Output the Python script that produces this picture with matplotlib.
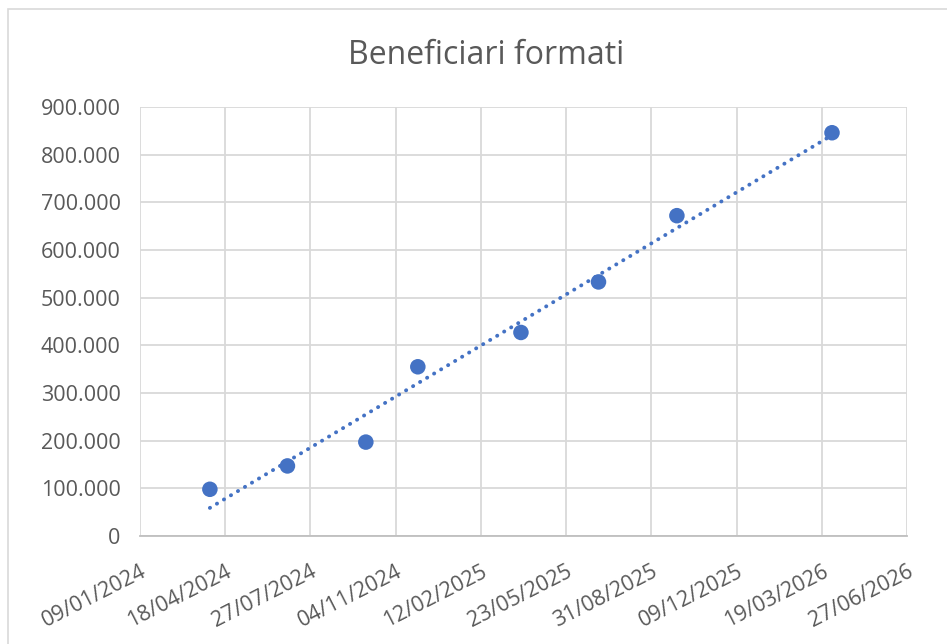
import numpy as np
import matplotlib.pyplot as plt
import matplotlib.dates as mdates
from matplotlib.ticker import FuncFormatter
from matplotlib.patches import Rectangle
import datetime as dt
plt.switch_backend('agg')

plt.rcParams['font.family'] = ['Open Sans', 'DejaVu Sans']

#### data
dates = ['2024-03-31', '2024-06-30', '2024-09-30', '2024-11-30',
         '2025-03-31', '2025-06-30', '2025-09-30', '2026-03-31']
beneficiari = [98000, 147000, 197000, 355000, 427000, 533000, 672000, 846000]
title = 'Beneficiari formati'
x_start = '2024-01-09'
x_step_days = 100
n_xticks = 10
y_ticks = [0, 100000, 200000, 300000, 400000, 500000, 600000, 700000, 800000, 900000]

blue = '#4472C4'
txt = '#595959'
grid = '#D9D9D9'

x = mdates.date2num([dt.datetime.strptime(d, '%Y-%m-%d') for d in dates])
y = np.array(beneficiari)
x0 = mdates.date2num(dt.datetime.strptime(x_start, '%Y-%m-%d'))
xt = x0 + np.arange(n_xticks) * x_step_days

# linear trendline (like Excel)
k, b = np.polyfit(x, y, 1)
xf = np.array([x.min(), x.max()])

fig = plt.figure(figsize=(9.47, 6.44), dpi=100)
ax = fig.add_axes([140/947, 1-536/644, (907-140)/947, (536-107)/644])

ax.plot(xf, k*xf + b, color=blue, lw=2.8, linestyle=(0, (0.05, 2.05)),
        dash_capstyle='round', zorder=3)
ax.scatter(x, y, s=125, color=blue, edgecolors='none', zorder=4)

ax.set_xlim(xt[0], xt[-1])
ax.set_ylim(y_ticks[0], y_ticks[-1])
ax.set_xticks(xt)
ax.set_yticks(y_ticks)
ax.xaxis.set_major_formatter(mdates.DateFormatter('%d/%m/%Y'))
ax.yaxis.set_major_formatter(FuncFormatter(lambda v, p: f'{int(v):,}'.replace(',', '.')))

ax.grid(True, color=grid, lw=1.3)
ax.set_axisbelow(True)
for s in ['top', 'right', 'left']:
    ax.spines[s].set_visible(False)
ax.spines['bottom'].set_color('#BFBFBF')
ax.spines['bottom'].set_linewidth(1.3)
ax.tick_params(length=0, labelsize=15.5, colors=txt)
ax.tick_params(axis='y', pad=14)
ax.tick_params(axis='x', pad=18)
for lab in ax.get_xticklabels():
    lab.set_rotation(27)
    lab.set_ha('right')
    lab.set_rotation_mode('anchor')

fig.text(486/947, 1-56/644, title, ha='center', va='center', fontsize=23, color=txt)

fig.patches.append(Rectangle((8/947, -0.1), 1.1, 1-9/644+0.1, transform=fig.transFigure,
                             fill=False, edgecolor='#D9D9D9', lw=1.2))

fig.savefig('out.png', dpi=100)
plt.close('all')
